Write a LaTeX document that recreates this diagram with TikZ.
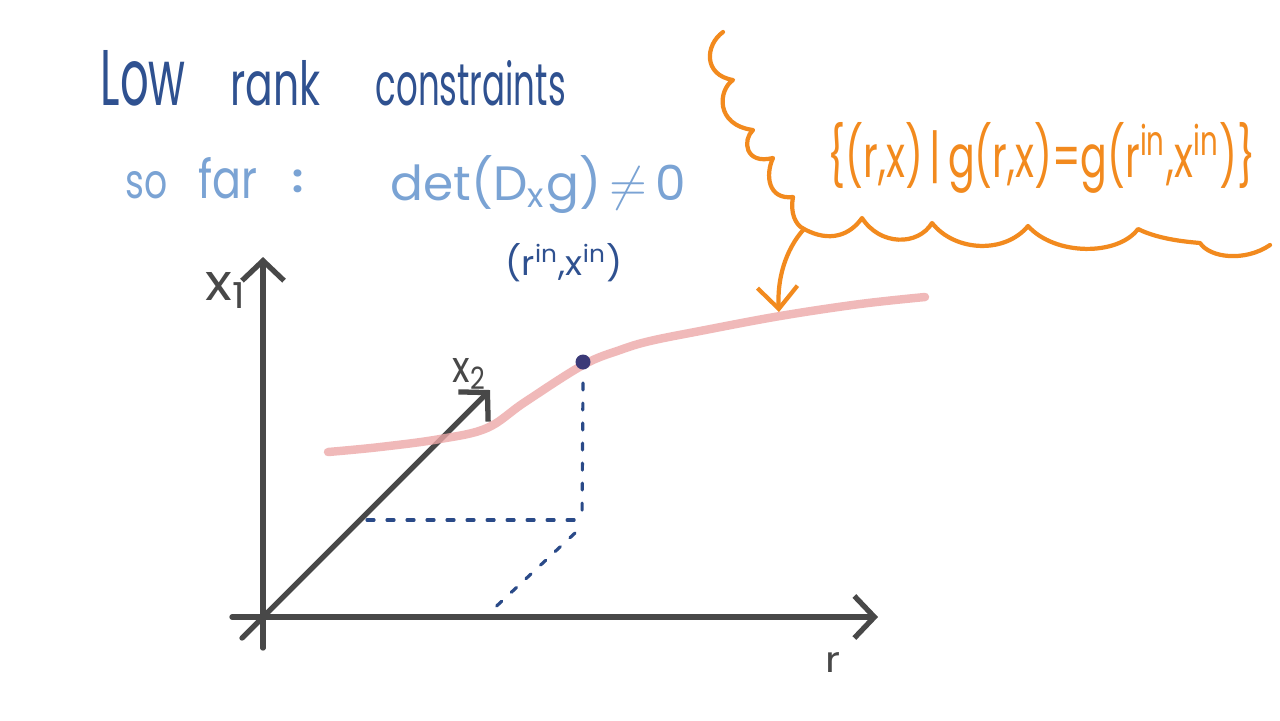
\documentclass[tikz,border=0pt]{standalone}
\usepackage{fontspec}
\setmainfont{Poppins}
\usepackage{graphicx}
\usetikzlibrary{arrows.meta}
\definecolor{titleblue}{HTML}{2F5190}
\definecolor{softblue}{HTML}{7AA3D4}
\definecolor{axisgray}{HTML}{484848}
\definecolor{curvered}{HTML}{EDA8A8}
\definecolor{orng}{HTML}{F28A1E}
\definecolor{dashblue}{HTML}{2A4A88}
\definecolor{dotcol}{HTML}{3B3A78}
\newcommand\fitto[3]{\resizebox{#1}{#2}{#3}}
\tikzset{
  txt/.style={inner sep=0pt, anchor=base west},
  axisline/.style={draw=axisgray, line width=1.5pt, line cap=round,
     -{Straight Barb[length=0.2cm,width=0.42cm,line width=1.5pt]}},
  guide/.style={draw=dashblue, line width=0.9pt, line cap=round,
     dash pattern=on 0.07cm off 0.13cm},
  wavy/.style={draw=orng, line width=1.2pt, line cap=round, line join=round},
}
\begin{document}
\begin{tikzpicture}[x=0.01cm,y=-0.01cm]
\useasboundingbox[fill=white] (0,0) rectangle (1280,720);

% titles
\node[txt, text=titleblue] (low) at (100,105) {\fitto{0.85cm}{0.55cm}{Low}};
\node[txt, text=titleblue] (rank) at (230,105) {\fitto{0.9cm}{0.45cm}{rank}};
\node[txt, text=titleblue] (constr) at (375,105) {\fitto{1.9cm}{0.45cm}{constraints}};

\node[txt, text=softblue] (so) at (125,198) {\fitto{0.42cm}{0.27cm}{so}};
\node[txt, text=softblue] (far) at (198,198) {\fitto{0.59cm}{0.41cm}{far}};
\node[txt, text=softblue, font=\fontsize{11}{12}\bfseries\selectfont] (colon) at (292,192) {:};
\node[txt, text=softblue] (det) at (390,200) {\fitto{2.95cm}{0.45cm}{det(D\textsubscript{x}g)\,$\neq$\,0}};

\node[txt, text=titleblue] (pin) at (505,275) {\fitto{1.17cm}{0.32cm}{(r\textsuperscript{in},x\textsuperscript{in})}};

% axes
\coordinate (vb) at (263,648);
\coordinate (vt) at (263,257);
\coordinate (hl) at (232,617);
\coordinate (hr) at (878,617);
\coordinate (db) at (242,638);
\coordinate (dt) at (490,390);
\draw[axisline] (vb) -- (vt);
\draw[axisline] (hl) -- (hr);
\draw[axisline] (db) -- (dt);

\node[txt, text=axisgray] (x1) at (205,300) {\fitto{0.42cm}{0.28cm}{x\textsubscript{1}}};
\node[txt, text=axisgray] (x2) at (452,382) {\fitto{0.34cm}{0.24cm}{x\textsubscript{2}}};
\node[txt, text=axisgray] (rl) at (825,672) {\fitto{0.15cm}{0.2cm}{r}};

% red curve
\draw[curvered, line width=2.4pt, line cap=round, opacity=0.8]
  plot[smooth, tension=0.6] coordinates {(328,452) (380,447) (440,439) (487,428) (525,402) (583,365) (620,350) (650,341) (700,331) (780,316) (860,304) (925,297)};

% guide lines
\coordinate (pv) at (583,383);
\coordinate (pc) at (582,521);
\coordinate (ph) at (367,520);
\coordinate (pe) at (575,520);
\coordinate (pd1) at (575,533);
\coordinate (pd2) at (488,614);
\draw[guide] (pv) -- (pc);
\draw[guide] (ph) -- (pe);
\draw[guide] (pd1) -- (pd2);

% point
\coordinate (pt) at (583,362);
\fill[dotcol] (pt) circle[radius=0.075cm];

% orange set
\node[txt, text=orng] (set) at (827,177) {\fitto{4.28cm}{0.55cm}{\{(r,x)\,|\,g(r,x)=g(r\textsuperscript{in},x\textsuperscript{in})\}}};

\coordinate (corner) at (804,229);
\coordinate (tip) at (779,312);
\draw[wavy]
  (723,32) .. controls (705,45) and (703,75) .. (733,80)
  .. controls (718,90) and (715,125) .. (753,130)
  .. controls (742,140) and (745,165) .. (773,158)
  .. controls (765,175) and (768,200) .. (793,197)
  .. controls (790,212) and (795,225) .. (corner)
  .. controls (830,243) and (850,235) .. (862,218)
  .. controls (880,246) and (918,246) .. (932,223)
  .. controls (955,252) and (1005,254) .. (1028,226)
  .. controls (1055,256) and (1118,256) .. (1138,229)
  .. controls (1160,240) and (1190,242) .. (1200,243)
  .. controls (1210,258) and (1245,262) .. (1270,245);
\draw[wavy, -{Straight Barb[length=0.22cm,width=0.4cm,line width=1.2pt]}]
  (corner) .. controls (785,250) and (777,280) .. (tip);
\end{tikzpicture}
\end{document}
